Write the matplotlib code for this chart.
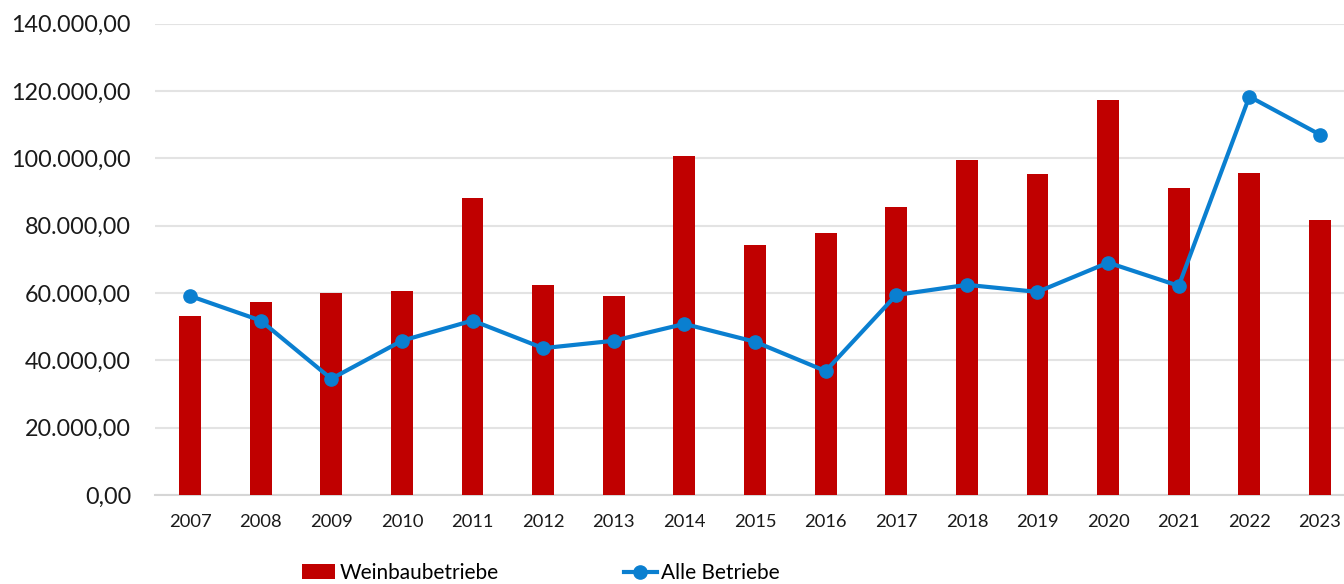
import matplotlib
matplotlib.use("Agg")
import matplotlib.pyplot as plt
from matplotlib.ticker import FuncFormatter, MultipleLocator

years = ["2007", "2008", "2009", "2010", "2011", "2012", "2013", "2014", "2015",
         "2016", "2017", "2018", "2019", "2020", "2021", "2022", "2023"]
weinbau = [53200, 57200, 59900, 60700, 88100, 62400, 59000, 100800, 74300,
           77800, 85600, 99400, 95400, 117300, 91200, 95500, 81700]
alle = [59100, 51800, 34500, 45800, 51800, 43600, 45800, 50800, 45500,
        36800, 59400, 62400, 60300, 69000, 62100, 118300, 107000]

plt.rcParams['font.family'] = ['Lato', 'DejaVu Sans']

fig = plt.figure(figsize=(13.44, 5.84), dpi=100)
ax = fig.add_axes([154.7 / 1344, 1 - 495 / 584, (1355.3 - 154.7) / 1344, (495 - 23.5) / 584])

x = list(range(len(years)))
bars = ax.bar(x, weinbau, width=0.31, color="#C00000", label="Weinbaubetriebe", zorder=2)
line, = ax.plot(x, alle, color="#0A7FD0", lw=3, marker="o", markersize=9.5,
                label="Alle Betriebe", zorder=3, solid_joinstyle="round")

ax.set_xlim(-0.5, len(years) - 0.5)
ax.set_ylim(0, 140000)
ax.yaxis.set_major_locator(MultipleLocator(20000))

def de_fmt(v, pos):
    s = f"{v:,.2f}"
    return s.replace(",", "X").replace(".", ",").replace("X", ".")

ax.yaxis.set_major_formatter(FuncFormatter(de_fmt))
ax.set_xticks(x)
ax.set_xticklabels(years)
ax.grid(axis="y", color="#e3e3e3", lw=1.5, zorder=0)
ax.set_axisbelow(True)
for s in ["top", "right", "left"]:
    ax.spines[s].set_visible(False)
ax.spines["bottom"].set_color("#d6d6d6")
ax.spines["bottom"].set_linewidth(1.5)
ax.spines["bottom"].set_zorder(1)
ax.tick_params(axis="y", length=0, labelsize=16.8, pad=17, labelcolor="#1a1a1a")
ax.tick_params(axis="x", length=0, labelsize=13.2, pad=14, labelcolor="#1a1a1a")

fig.legend(handles=[bars, line], labels=["Weinbaubetriebe", "Alle Betriebe"],
           loc="center", bbox_to_anchor=(541 / 1344, 1 - 573 / 584), ncol=2, frameon=False,
           fontsize=15, columnspacing=6.0, handlelength=1.6, handletextpad=0.2,
           borderaxespad=0, borderpad=0)

fig.savefig("out.png", dpi=100)
